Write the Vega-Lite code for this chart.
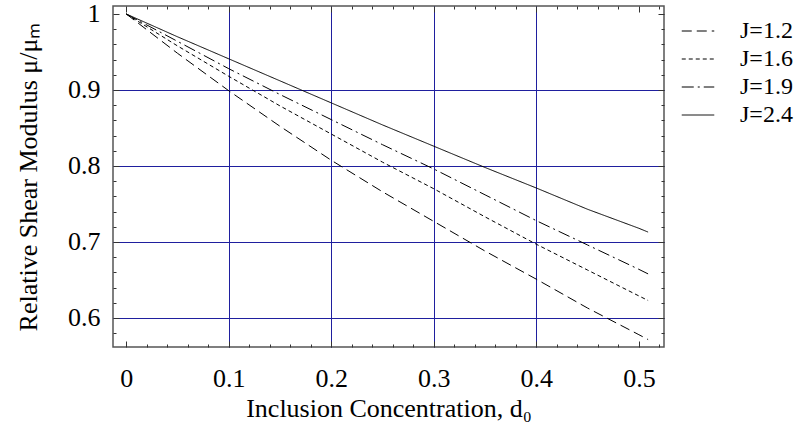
{
  "$schema": "https://vega.github.io/schema/vega-lite/v6.json",
  "width": 551,
  "height": 341,
  "autosize": "none",
  "padding": {"left": 113, "top": 6, "right": 143, "bottom": 75},
  "background": "white",
  "config": {
    "font": "Liberation Serif",
    "view": {"stroke": "#555555", "strokeWidth": 1.5},
    "axis": {
      "domain": false,
      "labelFont": "Liberation Serif",
      "titleFont": "Liberation Serif",
      "labelFontSize": 26,
      "titleFontSize": 26,
      "titleFontWeight": "normal",
      "labelColor": "black",
      "titleColor": "black",
      "tickColor": "#333333",
      "tickWidth": 1,
      "gridColor": "#1f1f9e",
      "gridWidth": 1,
      "gridOpacity": 1
    },
    "legend": {"labelFont": "Liberation Serif", "labelFontSize": 24, "labelColor": "black"}
  },
  "data": {
    "values": [
      {"d": 0, "J": "J=1.2", "v": 1},
      {"d": 0.05, "J": "J=1.2", "v": 0.9483},
      {"d": 0.1, "J": "J=1.2", "v": 0.899},
      {"d": 0.15, "J": "J=1.2", "v": 0.8522},
      {"d": 0.2, "J": "J=1.2", "v": 0.8075},
      {"d": 0.25, "J": "J=1.2", "v": 0.766},
      {"d": 0.3, "J": "J=1.2", "v": 0.727},
      {"d": 0.35, "J": "J=1.2", "v": 0.688},
      {"d": 0.4, "J": "J=1.2", "v": 0.651},
      {"d": 0.45, "J": "J=1.2", "v": 0.613},
      {"d": 0.5, "J": "J=1.2", "v": 0.578},
      {"d": 0.509, "J": "J=1.2", "v": 0.5716},
      {"d": 0, "J": "J=1.6", "v": 1},
      {"d": 0.05, "J": "J=1.6", "v": 0.958},
      {"d": 0.1, "J": "J=1.6", "v": 0.918},
      {"d": 0.15, "J": "J=1.6", "v": 0.879},
      {"d": 0.2, "J": "J=1.6", "v": 0.842},
      {"d": 0.25, "J": "J=1.6", "v": 0.805},
      {"d": 0.3, "J": "J=1.6", "v": 0.77},
      {"d": 0.35, "J": "J=1.6", "v": 0.733},
      {"d": 0.4, "J": "J=1.6", "v": 0.697},
      {"d": 0.45, "J": "J=1.6", "v": 0.663},
      {"d": 0.5, "J": "J=1.6", "v": 0.629},
      {"d": 0.509, "J": "J=1.6", "v": 0.623},
      {"d": 0, "J": "J=1.9", "v": 1},
      {"d": 0.05, "J": "J=1.9", "v": 0.964},
      {"d": 0.1, "J": "J=1.9", "v": 0.928},
      {"d": 0.15, "J": "J=1.9", "v": 0.894},
      {"d": 0.2, "J": "J=1.9", "v": 0.861},
      {"d": 0.25, "J": "J=1.9", "v": 0.828},
      {"d": 0.3, "J": "J=1.9", "v": 0.796},
      {"d": 0.35, "J": "J=1.9", "v": 0.762},
      {"d": 0.4, "J": "J=1.9", "v": 0.728},
      {"d": 0.45, "J": "J=1.9", "v": 0.696},
      {"d": 0.5, "J": "J=1.9", "v": 0.664},
      {"d": 0.509, "J": "J=1.9", "v": 0.658},
      {"d": 0, "J": "J=2.4", "v": 1},
      {"d": 0.05, "J": "J=2.4", "v": 0.97},
      {"d": 0.1, "J": "J=2.4", "v": 0.941},
      {"d": 0.15, "J": "J=2.4", "v": 0.912},
      {"d": 0.2, "J": "J=2.4", "v": 0.883},
      {"d": 0.25, "J": "J=2.4", "v": 0.854},
      {"d": 0.3, "J": "J=2.4", "v": 0.826},
      {"d": 0.35, "J": "J=2.4", "v": 0.798},
      {"d": 0.4, "J": "J=2.4", "v": 0.771},
      {"d": 0.45, "J": "J=2.4", "v": 0.743},
      {"d": 0.5, "J": "J=2.4", "v": 0.718},
      {"d": 0.509, "J": "J=2.4", "v": 0.713}
    ]
  },
  "layer": [
    {
      "mark": {"type": "line", "color": "black", "strokeWidth": 1},
      "encoding": {
        "x": {
          "field": "d", "type": "quantitative",
          "scale": {"domain": [-0.0129, 0.5245], "nice": false, "zero": false},
          "axis": {
            "orient": "bottom",
            "title": "Inclusion Concentration, d₀",
            "values": [0, 0.02, 0.04, 0.06, 0.08, 0.1, 0.12, 0.14, 0.16, 0.18, 0.2, 0.22, 0.24, 0.26, 0.28, 0.3, 0.32, 0.34, 0.36, 0.38, 0.4, 0.42, 0.44, 0.46, 0.48, 0.5, 0.52],
            "labelExpr": "abs(datum.value*10 - round(datum.value*10)) < 0.001 ? format(datum.value, '~g') : ''",
            "tickSize": {"condition": {"test": "abs(datum.value*10 - round(datum.value*10)) < 0.001", "value": -6}, "value": -3},
            "grid": true,
            "gridOpacity": {"condition": {"test": "abs(datum.value*10 - round(datum.value*10)) < 0.001 && datum.value > 0.05 && datum.value < 0.45", "value": 1}, "value": 0},
            "labelPadding": 24,
            "labelFlush": false,
            "titlePadding": 4
          }
        },
        "y": {
          "field": "v", "type": "quantitative",
          "scale": {"domain": [0.5618, 1.0105], "nice": false, "zero": false},
          "axis": {
            "orient": "left",
            "title": "Relative Shear Modulus  μ/μₘ",
            "values": [0.58, 0.6, 0.62, 0.64, 0.66, 0.68, 0.7, 0.72, 0.74, 0.76, 0.78, 0.8, 0.82, 0.84, 0.86, 0.88, 0.9, 0.92, 0.94, 0.96, 0.98, 1.0],
            "labelExpr": "abs(datum.value*10 - round(datum.value*10)) < 0.001 ? format(datum.value, '~g') : ''",
            "tickSize": {"condition": {"test": "abs(datum.value*10 - round(datum.value*10)) < 0.001", "value": -6}, "value": -3},
            "grid": true,
            "gridOpacity": {"condition": {"test": "abs(datum.value*10 - round(datum.value*10)) < 0.001 && datum.value < 0.95", "value": 1}, "value": 0},
            "labelPadding": 19,
            "labelFlush": false,
            "titlePadding": 26
          }
        },
        "strokeDash": {
          "field": "J", "type": "nominal",
          "scale": {"domain": ["J=1.2", "J=1.6", "J=1.9", "J=2.4"], "range": [[10, 5], [4, 3], [12, 4, 2, 4], [1, 0]]},
          "legend": {
            "title": null,
            "orient": "none",
            "legendX": 573,
            "legendY": 13,
            "symbolType": "M-2.5,0L2.5,0",
            "symbolSize": 169,
            "symbolStrokeColor": "black",
            "symbolStrokeWidth": 1,
            "symbolFillColor": "transparent",
            "labelOffset": 30,
            "rowPadding": 4
          }
        }
      }
    },
    {
      "mark": {"type": "line", "opacity": 0},
      "encoding": {
        "x": {
          "field": "d", "type": "quantitative",
          "axis": {
            "orient": "top", "title": null, "labels": false, "grid": false,
            "values": [0, 0.02, 0.04, 0.06, 0.08, 0.1, 0.12, 0.14, 0.16, 0.18, 0.2, 0.22, 0.24, 0.26, 0.28, 0.3, 0.32, 0.34, 0.36, 0.38, 0.4, 0.42, 0.44, 0.46, 0.48, 0.5, 0.52],
            "tickSize": {"condition": {"test": "abs(datum.value*10 - round(datum.value*10)) < 0.001", "value": -6}, "value": -3}
          }
        },
        "y": {
          "field": "v", "type": "quantitative",
          "axis": {
            "orient": "right", "title": null, "labels": false, "grid": false,
            "values": [0.58, 0.6, 0.62, 0.64, 0.66, 0.68, 0.7, 0.72, 0.74, 0.76, 0.78, 0.8, 0.82, 0.84, 0.86, 0.88, 0.9, 0.92, 0.94, 0.96, 0.98, 1.0],
            "tickSize": {"condition": {"test": "abs(datum.value*10 - round(datum.value*10)) < 0.001", "value": -6}, "value": -3}
          }
        },
        "detail": {"field": "J", "type": "nominal"}
      }
    }
  ],
  "resolve": {"axis": {"x": "independent", "y": "independent"}}
}
